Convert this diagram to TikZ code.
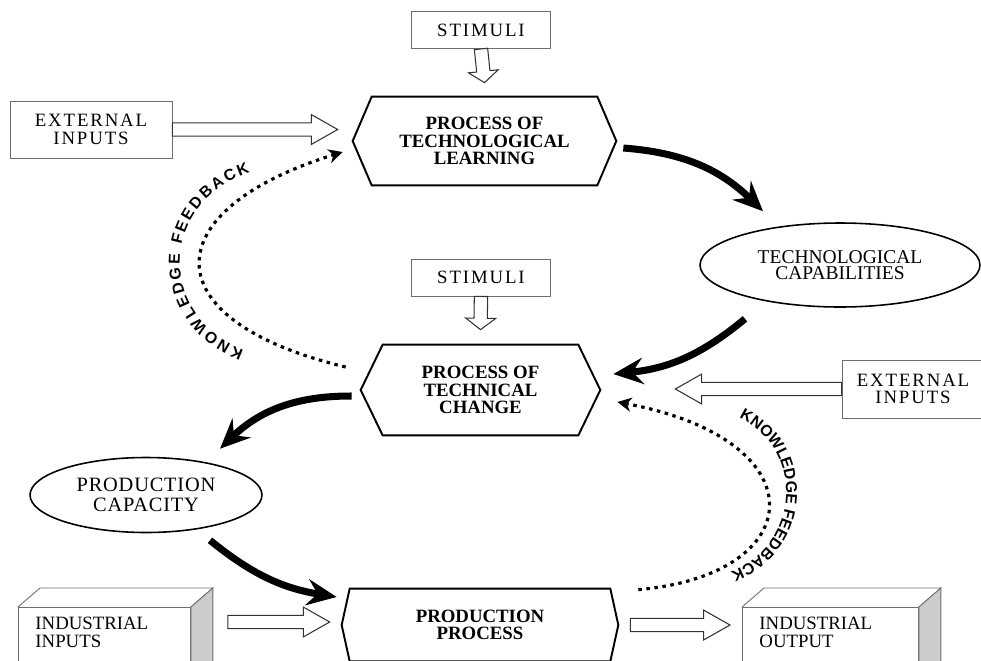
\documentclass[tikz,border=0pt]{standalone}
\usepackage{fontspec}
\setmainfont{Liberation Serif}
\newfontfamily\labelfont{Liberation Sans}
\usetikzlibrary{shapes.geometric,arrows.meta,calc,decorations.text}

\definecolor{boxgray}{RGB}{110,110,110}
\definecolor{sidegray}{RGB}{204,204,204}

\newcommand{\diagfont}{\fontsize{10.7}{10}\selectfont}

% hollow block arrow: [head length]{from}{to}
\newcommand{\hollowarrow}[3][15pt]{%
  \draw[hollow] let \p1=#2, \p2=#3, \n1={atan2(\y2-\y1,\x2-\x1)} in
    ($(\p1)+(\n1+90:3.8pt)$) -- ($(\p2)+(\n1+180:#1)+(\n1+90:3.8pt)$)
    -- ($(\p2)+(\n1+180:#1)+(\n1+90:8.5pt)$) -- (\p2)
    -- ($(\p2)+(\n1+180:#1)+(\n1-90:8.5pt)$) -- ($(\p2)+(\n1+180:#1)+(\n1-90:3.8pt)$)
    -- ($(\p1)+(\n1-90:3.8pt)$) -- cycle;}

% hexagon round a core node: {node}{point}
\newcommand{\hexoutline}[2]{%
  \draw[hexline] ([xshift=-#2]#1.west) -- (#1.north west) -- (#1.north east)
    -- ([xshift=#2]#1.east) -- (#1.south east) -- (#1.south west) -- cycle;}

% top and side of a 3d box
\newcommand{\boxdepth}[1]{%
  \draw[draw=boxgray, line width=0.5pt] (#1.north west) -- ++(22,-19)
    -- ([shift={(22,-19)}]#1.north east) -- (#1.north east);
  \filldraw[draw=boxgray, fill=sidegray, line width=0.5pt] (#1.north east) -- ++(22,-19)
    -- ([shift={(22,-19)}]#1.south east) -- (#1.south east) -- cycle;}

\begin{document}
\begin{tikzpicture}[x=0.02cm, y=-0.02cm, font=\diagfont]
   \tikzstyle{inbox} = [draw=boxgray, line width=0.5pt, inner sep=0pt, align=center, font=\diagfont\addfontfeature{LetterSpace=10}]
   \tikzstyle{hexcore} = [inner sep=0pt, align=center, font=\diagfont\bfseries]
   \tikzstyle{hexline} = [draw, line width=1.1pt, line join=miter]
   \tikzstyle{oval} = [draw, ellipse, line width=0.9pt, inner sep=0pt, align=center]
   \tikzstyle{frontbox} = [draw=boxgray, line width=0.5pt, anchor=north west, align=left, inner xsep=0.34cm, inner ysep=0.2cm, text depth=1.5cm]
   \tikzstyle{bigarrow} = [draw, line width=4pt, -{Stealth[length=17pt, width=15pt, inset=6pt]}]
   \tikzstyle{feedback} = [draw, line width=1.8pt, dash pattern=on 2pt off 2.6pt, -{Stealth[length=8pt, width=8pt, inset=2.5pt]}]
   \tikzstyle{hollow} = [draw=black!80, fill=white, line width=0.6pt, line join=miter]
   \tikzstyle{curvedtext} = [decorate, decoration={text along path, text align={fit to path}, text={|\labelfont\bfseries\fontsize{9}{9}\selectfont|KNOWLEDGE FEEDBACK}}]

   \useasboundingbox (0,0) rectangle (981,660);

   \node[inbox, minimum width=2.78cm, minimum height=0.74cm] (stimA) at (481,30) {STIMULI};
   \node[hexcore, minimum width=4.5cm, minimum height=1.76cm] (learn) at (484.5,141) {PROCESS OF\\TECHNOLOGICAL\\LEARNING};
   \node[inbox, minimum width=3.24cm, minimum height=1.14cm] (extA) at (91,129.5) {EXTERNAL\\INPUTS};
   \node[oval, minimum width=5.6cm, minimum height=1.68cm, font=\fontsize{11.1}{9.4}\selectfont] (techcap) at (840,265) {TECHNOLOGICAL\\CAPABILITIES};
   \node[inbox, minimum width=2.78cm, minimum height=0.74cm] (stimB) at (481,277.5) {STIMULI};
   \node[hexcore, minimum width=3.9cm, minimum height=1.8cm] (change) at (480.5,390) {PROCESS OF\\TECHNICAL\\CHANGE};
   \node[inbox, minimum width=2.84cm, minimum height=1.16cm] (extB) at (913,389) {EXTERNAL\\INPUTS};
   \node[oval, minimum width=4.64cm, minimum height=1.5cm, font=\fontsize{11.6}{11.3}\selectfont\addfontfeature{LetterSpace=4}] (prodcap) at (146,495) {PRODUCTION\\CAPACITY};
   \node[hexcore, minimum width=5.2cm, minimum height=1.44cm] (prodproc) at (480,625) {PRODUCTION\\PROCESS};
   \node[frontbox, text width=2.76cm] (indin) at (18,607) {INDUSTRIAL\\INPUTS};
   \node[frontbox, text width=2.84cm] (indout) at (742,607) {INDUSTRIAL\\OUTPUT};

   \hexoutline{learn}{0.38cm}
   \hexoutline{change}{0.44cm}
   \hexoutline{prodproc}{0.16cm}
   \boxdepth{indin}
   \boxdepth{indout}

   \hollowarrow[6.5pt]{(stimA.south)}{([yshift=0.28cm]learn.north)}
   \hollowarrow{(extA.east)}{([shift={(-34,-11.5)}]learn.west)}
   \hollowarrow[6.5pt]{(stimB.south)}{([yshift=0.3cm]change.north)}
   \hollowarrow{(extB.west)}{([shift={(97,-1)}]change.east)}
   \hollowarrow{([shift={(37,15)}]indin.north east)}{([shift={(-20,-3)}]prodproc.west)}
   \hollowarrow{([xshift=0.4cm]prodproc.east)}{([shift={(-12,18)}]indout.north west)}

   \draw [bigarrow] ([shift={(26,7)}]learn.east) to [bend left=20] ([shift={(-77,-11)}]techcap.north);
   \draw [bigarrow] ([shift={(-95,11)}]techcap.south) to [bend left=17] ([shift={(35,-16)}]change.east);
   \draw [bigarrow] ([shift={(-31,6)}]change.west) to [bend right=22] ([shift={(74,-8)}]prodcap.north);
   \draw [bigarrow] ([shift={(64,7)}]prodcap.south) to [bend right=15] ([shift={(-13,-28)}]prodproc.west);

   \draw [feedback] ([shift={(-37,-23)}]change.west) .. controls +(-196,-47) and +(-188,58) .. ([shift={(-29,11)}]learn.west);
   \draw [feedback] ([shift={(28,1)}]prodproc.north east) .. controls +(172,-15) and +(203,38) .. ([shift={(39,12)}]change.east);

   \path [curvedtext] (244,350) .. controls (160,320) and (155,205) .. (250,172);
   \path [curvedtext] (739,418) .. controls (806,450) and (800,545) .. (731,572);
\end{tikzpicture}
\end{document}
